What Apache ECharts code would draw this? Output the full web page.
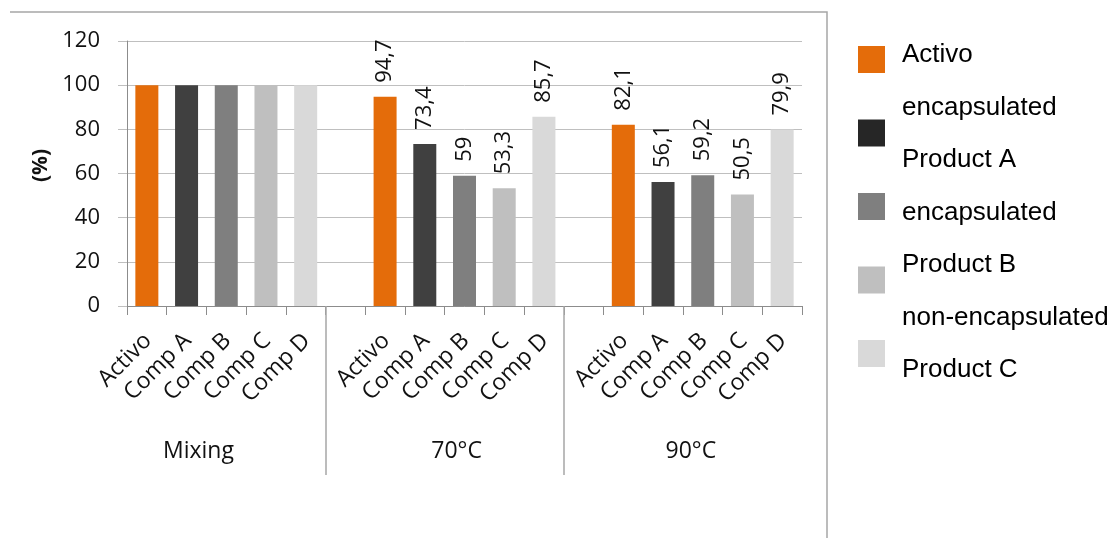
<!DOCTYPE html>
<html>
<head>
<meta charset="utf-8">
<script src="https://cdn.jsdelivr.net/npm/echarts@6/dist/echarts.min.js"></script>
<style>html,body{margin:0;padding:0;background:#fff}#c{width:1112px;height:538px}</style>
</head>
<body>
<div id="c"></div>
<script>
// ---- data ----
const groupNames = ['Mixing', '70°C', '90°C'];
const subLabels = ['Activo', 'Comp A', 'Comp B', 'Comp C', 'Comp D'];
const activo = [100, 94.7, 82.1];
const compA = [100, 73.4, 56.1];
const compB = [100, 59, 59.2];
const compC = [100, 53.3, 50.5];
const compD = [100, 85.7, 79.9];
const yTicks = [0, 20, 40, 60, 80, 100, 120];
const legendLines = ['Activo', 'encapsulated', 'Product A', 'encapsulated', 'Product B', 'non-encapsulated', 'Product C'];

// ---- build categories: groups after the first start with a blank slot ----
const categories = [];
const slotOf = []; // slotOf[g][k]
groupNames.forEach((g, gi) => {
  if (gi > 0) categories.push('');
  slotOf.push(subLabels.map(s => { categories.push(s); return categories.length - 1; }));
});
const nSlots = categories.length;
// group boundaries sit at the left edge of each blank slot
const separators = [slotOf[1][0] - 1, slotOf[2][0] - 1];

const seriesValues = [activo, compA, compB, compC, compD];
const colors = ['#E46C0A', '#404040', '#7F7F7F', '#BFBFBF', '#D9D9D9'];
const legendColors = ['#E46C0A', '#262626', '#7F7F7F', '#BFBFBF', '#D9D9D9'];

const fmt = v => String(v).replace('.', ',');

const series = seriesValues.map((vals, si) => {
  const data = new Array(nSlots).fill('-');
  vals.forEach((v, gi) => {
    data[slotOf[gi][si]] = gi === 0 ? { value: v, label: { show: false } } : v;
  });
  return {
    name: subLabels[si],
    type: 'bar',
    xAxisIndex: 0,
    data: data,
    barWidth: 23,
    barGap: '-100%',
    itemStyle: { color: colors[si] },
    label: {
      show: true,
      position: 'top',
      rotate: 90,
      align: 'left',
      verticalAlign: 'middle',
      distance: 14,
      fontFamily: 'Open Sans',
      fontSize: 22,
      color: '#111',
      formatter: p => fmt(p.value)
    }
  };
});

const font = 'Open Sans';
const chart = echarts.init(document.getElementById('c'), null, { renderer: 'canvas' });
chart.setOption({
  animation: false,
  backgroundColor: '#fff',
  grid: { left: 127, right: 310, top: 41, bottom: 232, containLabel: false },
  title: {
    text: legendLines.join('\n'),
    left: 897,
    top: 24,
    textStyle: {
      fontFamily: "'Liberation Sans', Arial",
      fontSize: 26, lineHeight: 52.5, fontWeight: 'normal', color: '#000'
    }
  },
  legend: {
    orient: 'vertical',
    left: 853,
    top: 41,
    itemWidth: 27,
    itemHeight: 27,
    itemGap: 46.5,
    icon: 'rect',
    selectedMode: false,
    formatter: () => '',
    textStyle: { fontSize: 1 },
    data: subLabels.map((n, i) => ({ name: n, itemStyle: { color: legendColors[i] } }))
  },
  xAxis: [
    {
      type: 'category',
      data: categories,
      boundaryGap: true,
      axisLine: { show: true, lineStyle: { color: '#8c8c8c', width: 1 } },
      axisTick: { show: true, interval: 0, length: 9, lineStyle: { color: '#8c8c8c' } },
      axisLabel: {
        interval: 0, rotate: 45, margin: 16,
        verticalAlign: 'top',
        padding: [0, 10, 0, 0],
        fontFamily: font, fontSize: 23, color: '#111'
      }
    },
    {
      type: 'value',
      position: 'bottom',
      min: 0, max: nSlots,
      axisLine: { show: false },
      splitLine: { show: false },
      axisTick: {
        show: true, length: 169, customValues: separators,
        lineStyle: { color: '#a6a6a6', width: 1.5 }
      },
      axisLabel: {
        customValues: [1.8, 8.3, 14.2],
        margin: 134,
        fontFamily: font, fontSize: 23, color: '#111',
        formatter: v => groupNames[v < separators[0] ? 0 : (v < separators[1] ? 1 : 2)]
      }
    }
  ],
  yAxis: {
    type: 'value',
    min: yTicks[0], max: yTicks[yTicks.length - 1], interval: 20,
    name: '(%)',
    nameLocation: 'middle',
    nameGap: 74,
    nameTextStyle: { fontFamily: font, fontSize: 21, fontWeight: 'bold', color: '#111', padding: [0, 0, 0, 16] },
    axisLine: { show: true, lineStyle: { color: '#8c8c8c' } },
    axisTick: { show: true, length: 9, lineStyle: { color: '#bfbfbf' } },
    splitLine: { show: true, lineStyle: { color: '#bfbfbf', width: 1 } },
    axisLabel: { margin: 27, fontFamily: font, fontSize: 22, color: '#111' }
  },
  graphic: [
    {
      type: 'polyline',
      shape: { points: [[10, 12], [827, 12], [827, 538]] },
      style: { stroke: '#a6a6a6', lineWidth: 1.5, fill: null },
      silent: true
    }
  ],
  series: series
});
</script>
</body>
</html>
